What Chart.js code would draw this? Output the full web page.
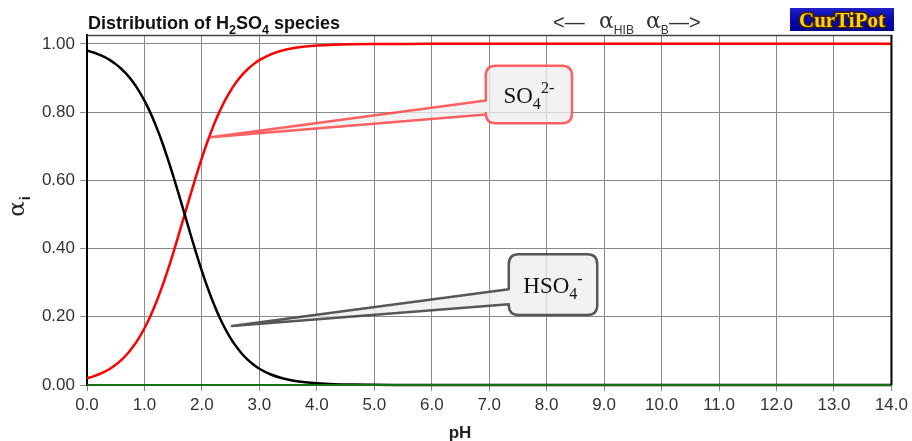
<!DOCTYPE html>
<html>
<head>
<meta charset="utf-8">
<script src="https://cdn.jsdelivr.net/npm/chart.js@4.4.1/dist/chart.umd.min.js"></script>
<style>
html,body{margin:0;padding:0;background:#fff;}
#wrap{width:912px;height:441px;position:relative;}
</style>
</head>
<body>
<div id="wrap"><canvas id="c" width="912" height="441"></canvas></div>
<script>
// ---- data ----
const pH = [0,0.1,0.2,0.3,0.4,0.5,0.6,0.7,0.8,0.9,1.0,1.1,1.2,1.3,1.4,1.5,1.6,1.7,1.8,1.9,2.0,2.1,2.2,2.3,2.4,2.5,2.6,2.7,2.8,2.9,3.0,3.2,3.4,3.6,3.8,4.0,4.3,4.6,5.0,5.5,6.0,7,8,9,10,11,12,13,14];
const alphaSO4 = [0.0196,0.0245,0.0307,0.0383,0.0477,0.0594,0.0736,0.0909,0.1118,0.1368,0.1663,0.2008,0.2403,0.2847,0.3339,0.3869,0.4427,0.5,0.5573,0.6131,0.6661,0.7153,0.7597,0.7992,0.8337,0.8632,0.8882,0.9091,0.9264,0.9406,0.9523,0.9693,0.9804,0.9876,0.9921,0.995,0.9975,0.9987,0.9995,0.9998,1,1,1,1,1,1,1,1,1];
const alphaHSO4 = [0.9804,0.9755,0.9693,0.9617,0.9523,0.9406,0.9264,0.9091,0.8882,0.8632,0.8337,0.7992,0.7597,0.7153,0.6661,0.6131,0.5573,0.5,0.4427,0.3869,0.3339,0.2847,0.2403,0.2008,0.1663,0.1368,0.1118,0.0909,0.0736,0.0594,0.0477,0.0307,0.0196,0.0124,0.0079,0.005,0.0025,0.0013,0.0005,0.0002,0,0,0,0,0,0,0,0,0];
const alphaH2SO4 = [0,0,0,0,0,0,0,0,0,0,0,0,0,0,0,0,0,0,0,0,0,0,0,0,0,0,0,0,0,0,0,0,0,0,0,0,0,0,0,0,0,0,0,0,0,0,0,0,0];
const xTicks = [0,1,2,3,4,5,6,7,8,9,10,11,12,13,14];
const yTicks = [0,0.2,0.4,0.6,0.8,1.0];
const titleParts = [['Distribution of H',0],['2',1],['SO',0],['4',1],[' species',0]];
const xTitle = 'pH';
// callout anchors in data units: tip, base upper/lower (on box left), box [x0,x1,yTop,yBottom]
const calloutSO4 = {label:[['SO',0],['4',1],['2-',2]], tip:[2.15,0.726], base:[0.834,0.793], box:[6.94,8.44,0.936,0.767]};
const calloutHSO4 = {label:[['HSO',0],['4',1],['-',2]], tip:[2.52,0.173], base:[0.281,0.237], box:[7.34,8.88,0.383,0.205]};

function toXY(d){return d.map((v,i)=>({x:pH[i],y:v}));}

const SANS = '"Liberation Sans",Arial,sans-serif';
const SERIF = '"Liberation Serif","Times New Roman",serif';

function drawRich(ctx, parts, x, y, size, bold, family, color, subScale, subFamily){
  subScale = subScale || 0.7;
  ctx.fillStyle = color;
  ctx.textBaseline = 'alphabetic';
  ctx.textAlign = 'left';
  let cx = x;
  for (const [t, mode] of parts){
    let s = mode ? size*subScale : size;
    let dy = mode===1 ? size*0.28 : (mode===2 ? -size*0.4 : 0);
    ctx.font = (bold?'bold ':'') + s + 'px ' + (mode && subFamily ? subFamily : family);
    ctx.fillText(t, cx, y+dy);
    cx += ctx.measureText(t).width;
  }
  return cx;
}
function richWidth(ctx, parts, size, bold, family, subScale){
  subScale = subScale || 0.7;
  let w=0;
  for (const [t,mode] of parts){
    let s = mode ? size*subScale : size;
    ctx.font = (bold?'bold ':'') + s + 'px ' + family;
    w += ctx.measureText(t).width;
  }
  return w;
}

function drawCallout(chart, c, stroke, fill){
  const ctx = chart.ctx, xs = chart.scales.x, ys = chart.scales.y;
  const tx = xs.getPixelForValue(c.tip[0]), ty = ys.getPixelForValue(c.tip[1]);
  const x0 = xs.getPixelForValue(c.box[0]), x1 = xs.getPixelForValue(c.box[1]);
  const y0 = ys.getPixelForValue(c.box[2]), y1 = ys.getPixelForValue(c.box[3]);
  const bu = ys.getPixelForValue(c.base[0]), bl = ys.getPixelForValue(c.base[1]);
  const r = 10;
  ctx.save();
  ctx.beginPath();
  ctx.moveTo(x0, bu);
  ctx.lineTo(tx, ty);
  ctx.lineTo(x0, bl);
  ctx.lineTo(x0, y1 - r);
  ctx.quadraticCurveTo(x0, y1, x0 + r, y1);
  ctx.lineTo(x1 - r, y1);
  ctx.quadraticCurveTo(x1, y1, x1, y1 - r);
  ctx.lineTo(x1, y0 + r);
  ctx.quadraticCurveTo(x1, y0, x1 - r, y0);
  ctx.lineTo(x0 + r, y0);
  ctx.quadraticCurveTo(x0, y0, x0, y0 + r);
  ctx.closePath();
  ctx.fillStyle = fill;
  ctx.fill();
  ctx.lineJoin = 'round';
  ctx.lineWidth = 2.5;
  ctx.strokeStyle = stroke;
  ctx.stroke();
  const w = richWidth(ctx, c.label, 23, false, SERIF, 0.7);
  drawRich(ctx, c.label, (x0+x1)/2 - w/2, (y0+y1)/2 + 8, 23, false, SERIF, '#111', 0.7);
  ctx.restore();
}

const decor = {
  id:'decor',
  afterDraw(chart){
    const ctx = chart.ctx, a = chart.chartArea;
    ctx.save();
    // frame: top and right
    ctx.strokeStyle = '#444'; ctx.lineWidth = 1.5;
    ctx.beginPath(); ctx.moveTo(a.left, a.top+0.5); ctx.lineTo(a.right, a.top+0.5); ctx.stroke();
    ctx.strokeStyle = '#000'; ctx.lineWidth = 2;
    ctx.beginPath(); ctx.moveTo(a.right, a.top); ctx.lineTo(a.right, a.bottom); ctx.stroke();
    // title
    drawRich(ctx, titleParts, 88, 29, 18, true, SANS, '#111', 0.7);
    // top alpha legend
    ctx.fillStyle = '#333';
    ctx.font = '20px ' + SANS; ctx.textAlign='left'; ctx.textBaseline='alphabetic';
    ctx.fillText('<\u2014', 553, 29);
    drawRich(ctx, [['\u03b1',0],['HIB',1]], 599, 28, 22, false, '"DejaVu Serif",serif', '#333', 0.55, SANS);
    let ex = drawRich(ctx, [['\u03b1',0],['B',1]], 646, 28, 22, false, '"DejaVu Serif",serif', '#333', 0.55, SANS);
    ctx.font = '20px ' + SANS; ctx.fillStyle='#333';
    ctx.fillText('\u2014>', ex, 29);
    // logo
    const g = ctx.createLinearGradient(0, 8, 0, 31);
    g.addColorStop(0, '#2020c8'); g.addColorStop(0.5, '#0808b0'); g.addColorStop(1, '#000090');
    ctx.fillStyle = g; ctx.fillRect(790, 8, 104, 23);
    ctx.font = 'bold 21px ' + SERIF;
    ctx.textAlign = 'center';
    ctx.lineWidth = 3; ctx.strokeStyle = '#402000';
    ctx.strokeText('CurTiPot', 842, 27);
    ctx.fillStyle = '#ffd21a';
    ctx.fillText('CurTiPot', 842, 27);
    // axis titles
    ctx.textAlign = 'center';
    ctx.fillStyle = '#222';
    ctx.font = 'bold 17px ' + SANS;
    ctx.fillText(xTitle, 460, 438);
    ctx.save();
    ctx.translate(24, 206);
    ctx.rotate(-Math.PI/2);
    ctx.textAlign = 'left';
    const yw = richWidth(ctx, [['\u03b1',0]], 23, false, '"DejaVu Serif",serif') + 6;
    drawRich(ctx, [['\u03b1',0]], -yw/2, 0, 23, false, '"DejaVu Serif",serif', '#222');
    ctx.font = 'bold 15px ' + SANS;
    ctx.fillText('i', -yw/2 + yw - 5, 6);
    ctx.restore();
    ctx.restore();
  },
  afterDatasetsDraw(chart){
    drawCallout(chart, calloutSO4, 'rgba(255,70,70,0.85)', 'rgba(238,238,238,0.75)');
    drawCallout(chart, calloutHSO4, 'rgba(70,70,70,0.9)', 'rgba(238,238,238,0.75)');
  }
};

new Chart(document.getElementById('c'), {
  type: 'line',
  data: {
    datasets: [
      {label:'H2SO4', data: toXY(alphaH2SO4), borderColor:'#157015', borderWidth:2, pointRadius:0, fill:false, clip:4},
      {label:'HSO4-', data: toXY(alphaHSO4), borderColor:'#000', borderWidth:2.5, pointRadius:0, cubicInterpolationMode:'monotone', fill:false, clip:4},
      {label:'SO42-', data: toXY(alphaSO4), borderColor:'#ff0000', borderWidth:2.5, pointRadius:0, cubicInterpolationMode:'monotone', fill:false, clip:4}
    ]
  },
  options: {
    responsive:false, animation:false, devicePixelRatio:1,
    layout:{padding:{top:35, right:18, left:0, bottom:0}},
    plugins:{legend:{display:false}, tooltip:{enabled:false}},
    scales:{
      x:{
        type:'linear', min:0, max:14,
        afterBuildTicks(s){ s.ticks = xTicks.map(v=>({value:v})); },
        afterFit(s){ s.height = 56; },
        grid:{color:'#8a8a8a', lineWidth:1, tickLength:6, drawTicks:true},
        border:{color:'#8a8a8a', width:1},
        ticks:{color:'#333', font:{family:SANS, size:17}, padding:4, maxRotation:0, autoSkip:false, callback:v=>Number(v).toFixed(1)}
      },
      y:{
        type:'linear', min:0, max:1.026,
        afterBuildTicks(s){ s.ticks = yTicks.map(v=>({value:v})); },
        afterFit(s){ s.width = 87; },
        grid:{color:'#8a8a8a', lineWidth:1, tickLength:7},
        border:{color:'#000', width:2},
        ticks:{color:'#333', font:{family:SANS, size:17}, padding:5, callback:v=>Number(v).toFixed(2)}
      }
    }
  },
  plugins:[decor]
});
</script>
</body>
</html>
